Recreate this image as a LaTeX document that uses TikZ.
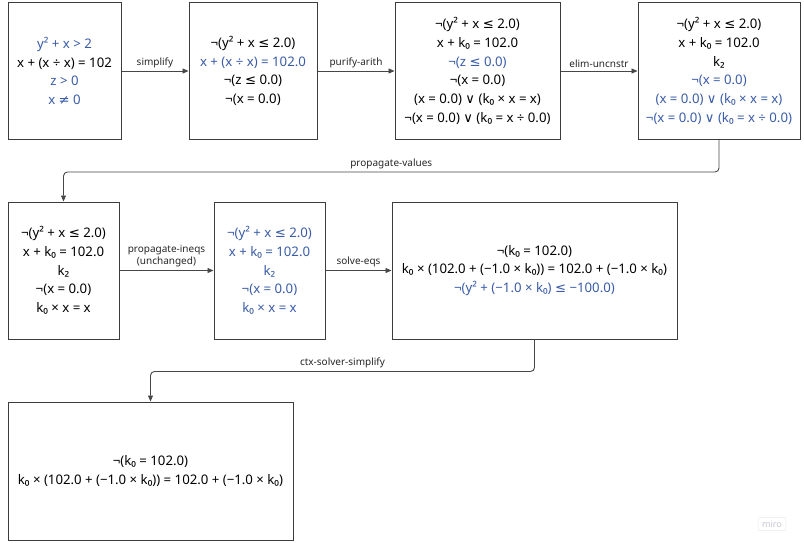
\documentclass[tikz,border=0pt]{standalone}
\usepackage{fontspec}
\setmainfont{Noto Sans}
\newfontfamily\dvfont{DejaVu Sans}
\usetikzlibrary{arrows.meta}
\definecolor{nblue}{RGB}{58,92,168}
\definecolor{edge}{RGB}{60,60,60}
\definecolor{conncol}{RGB}{70,70,70}
\definecolor{miro}{RGB}{200,200,214}
\newcommand{\bl}[1]{\textcolor{nblue}{#1}}
\newcommand{\orr}{{\dvfont ∨}}
\newcommand{\leqq}{{\dvfont ≤}}
\newcommand{\neqq}{{\dvfont ≠}}
\tikzset{
  box/.style={draw=edge, line width=1pt, fill=white, align=center,
    font=\fontsize{13.2}{18.7}\selectfont, inner sep=0pt, minimum height=137pt},
  conn/.style={draw=conncol, line width=0.9pt, -{Triangle[length=6pt,width=5pt]}},
  lbl/.style={font=\fontsize{10}{12.5}\selectfont, text=black!85, inner sep=3pt, align=center}
}
\begin{document}
\begin{tikzpicture}[x=1pt,y=-1pt]
\path[use as bounding box] (0,0) rectangle (804,542);
% row 1
\node[box, minimum width=113pt] (b1) at (64.5,71)
  {\bl{y² + x > 2}\\x + (x ÷ x) = 102\\\bl{z > 0}\\\bl{x \neqq{} 0}};
\node[box, minimum width=128pt] (b2) at (253,71)
  {¬(y² + x \leqq{} 2.0)\\\bl{x + (x ÷ x) = 102.0}\\¬(z \leqq{} 0.0)\\¬(x = 0.0)};
\node[box, minimum width=165pt] (b3) at (477.5,71)
  {¬(y² + x \leqq{} 2.0)\\x + k₀ = 102.0\\\bl{¬(z \leqq{} 0.0)}\\¬(x = 0.0)\\(x = 0.0) \orr{} (k₀ × x = x)\\¬(x = 0.0) \orr{} (k₀ = x ÷ 0.0)};
\node[box, minimum width=162pt] (b4) at (719,71)
  {¬(y² + x \leqq{} 2.0)\\x + k₀ = 102.0\\k₂\\\bl{¬(x = 0.0)}\\\bl{(x = 0.0) \orr{} (k₀ × x = x)}\\\bl{¬(x = 0.0) \orr{} (k₀ = x ÷ 0.0)}};
% row 2
\node[box, minimum width=111pt] (b5) at (63.5,270.5)
  {¬(y² + x \leqq{} 2.0)\\x + k₀ = 102.0\\k₂\\¬(x = 0.0)\\k₀ × x = x};
\node[box, minimum width=111pt] (b6) at (269.5,270.5)
  {\bl{¬(y² + x \leqq{} 2.0)}\\\bl{x + k₀ = 102.0}\\\bl{k₂}\\\bl{¬(x = 0.0)}\\\bl{k₀ × x = x}};
\node[box, minimum width=285pt] (b7) at (534.5,270.5)
  {¬(k₀ = 102.0)\\k₀ × (102.0 + (−1.0 × k₀)) = 102.0 + (−1.0 × k₀)\\\bl{¬(y² + (−1.0 × k₀) \leqq{} −100.0)}};
% row 3
\node[box, minimum width=285pt, minimum height=138pt] (b8) at (150.5,471)
  {¬(k₀ = 102.0)\\k₀ × (102.0 + (−1.0 × k₀)) = 102.0 + (−1.0 × k₀)};
% connectors
\draw[conn] (b1.east) -- node[lbl, above] {simplify} (b2.west);
\draw[conn] (b2.east) -- node[lbl, above] {purify-arith} (b3.west);
\draw[conn] (b3.east) -- node[lbl, above] {elim-uncnstr} (b4.west);
\draw[conn, rounded corners=4pt] (b4.south) -- ++(0,32) -| node[lbl, pos=0.25, above] {propagate-values} (b5.north);
\draw[conn] (b5.east) -- node[lbl, above] {propagate-ineqs\\(unchanged)} (b6.west);
\draw[conn] (b6.east) -- node[lbl, above] {solve-eqs} (b7.west);
\draw[conn, rounded corners=4pt] (b7.south) -- ++(0,32) -| node[lbl, pos=0.25, above] {ctx-solver-simplify} (b8.north);
% watermark
\node[draw=miro!40, line width=0.4pt, rounded corners=1pt, text=miro, font=\fontsize{9}{10}\selectfont, inner xsep=4pt, inner ysep=3pt] (wm) at (772,524) {miro};
\end{tikzpicture}
\end{document}
